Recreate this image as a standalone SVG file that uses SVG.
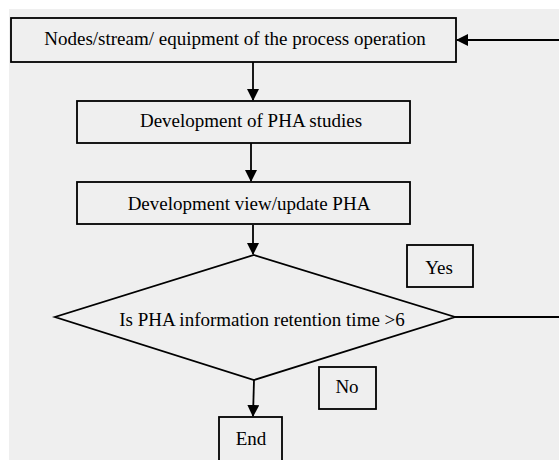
<svg xmlns="http://www.w3.org/2000/svg" width="559" height="460" viewBox="0 0 559 460">
<style>
.box{fill:#efefef;stroke:#000;stroke-width:1.8}
.c{fill:none;stroke:#000;stroke-width:1.8}
</style>
<defs>
<marker id="ah" markerWidth="12" markerHeight="12" refX="11" refY="6" orient="auto" markerUnits="userSpaceOnUse">
<path d="M0,0 L12,6 L0,12 Z" fill="#000"/>
</marker>
</defs>
<rect x="0" y="0" width="559" height="460" fill="#fff"/>
<rect x="9" y="9" width="550" height="451" fill="#efefef"/>
<g id="connectors">
<line class="c" x1="253" y1="62" x2="253" y2="100" marker-end="url(#ah)"/>
<line class="c" x1="251" y1="143" x2="251" y2="181" marker-end="url(#ah)"/>
<line class="c" x1="253" y1="225" x2="253" y2="254" marker-end="url(#ah)"/>
<line class="c" x1="254" y1="380" x2="253" y2="416" marker-end="url(#ah)"/>
<line class="c" x1="455" y1="317" x2="559" y2="317"/>
<line class="c" x1="559" y1="40" x2="457" y2="40" marker-end="url(#ah)"/>
</g>
<g font-family="Liberation Serif, Times New Roman, serif" font-size="19" fill="#000" text-anchor="middle" style="font-family:'Liberation Serif','Times New Roman',serif;font-size:19px">
<g id="n1"><rect class="box" x="11" y="18" width="445" height="44"/><text x="235" y="45" fill="#000">Nodes/stream/ equipment of the process operation</text></g>
<g id="n2"><rect class="box" x="77" y="101" width="333" height="42"/><text x="251" y="127" fill="#000">Development of PHA studies</text></g>
<g id="n3"><rect class="box" x="77" y="182" width="333" height="42"/><text x="249" y="210" fill="#000">Development view/update PHA</text></g>
<g id="n4"><polygon class="box" points="254,255 455,317 254,380 55,317"/><text x="262" y="326" fill="#000">Is PHA information retention time &gt;6</text></g>
<g id="yes"><rect class="box" x="407" y="245" width="66" height="42"/><text x="439" y="274" fill="#000">Yes</text></g>
<g id="no"><rect class="box" x="319" y="367" width="57" height="42"/><text x="347" y="393" fill="#000">No</text></g>
<g id="end"><rect class="box" x="219" y="417" width="63" height="50"/><text x="251" y="445" fill="#000">End</text></g>
</g>
</svg>
